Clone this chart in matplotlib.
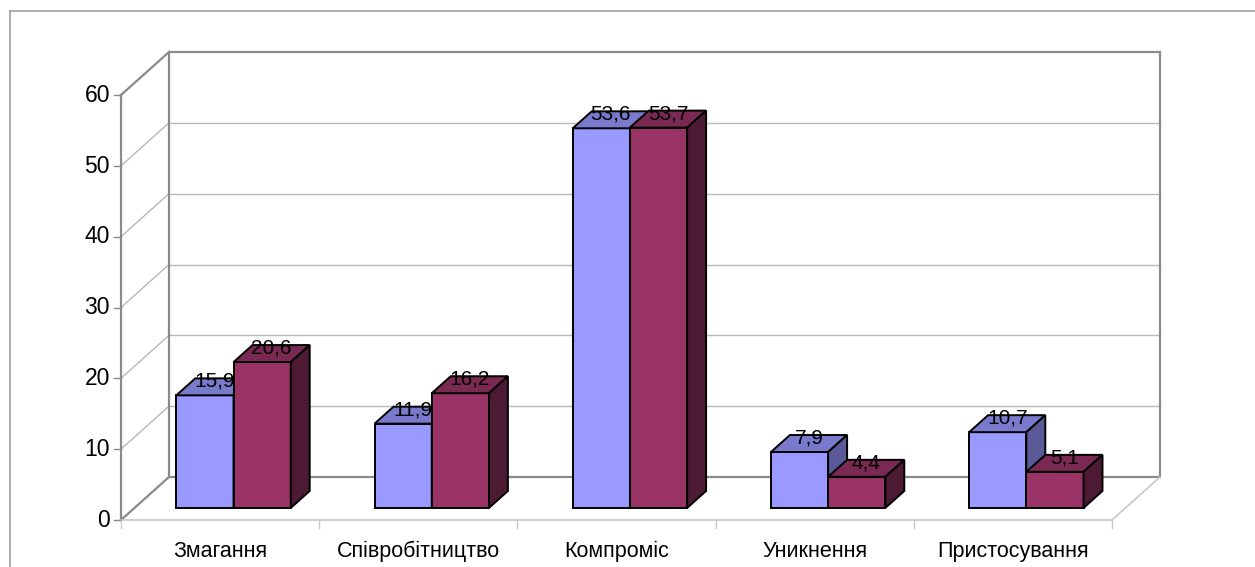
import matplotlib.pyplot as plt
from matplotlib.patches import Polygon
from matplotlib.lines import Line2D

plt.rcParams['font.family'] = ['Liberation Sans', 'DejaVu Sans']

# Conflict-resolution styles, % of respondents
categories = ["Змагання", "Співробітництво", "Компроміс", "Уникнення", "Пристосування"]
series_a = [15.9, 11.9, 53.6, 7.9, 10.7]
series_b = [20.6, 16.2, 53.7, 4.4, 5.1]
y_ticks = [0, 10, 20, 30, 40, 50, 60]

# face colours: front, top, side
colors_a = ("#9999ff", "#7a7acc", "#5a5a99")
colors_b = ("#993366", "#7a2952", "#4d1a33")

W, H = 1255, 567
fig = plt.figure(figsize=(W / 100, H / 100), dpi=100)
ax = fig.add_axes([0, 0, 1, 1])

# front plane of the plot box in pixels
X0, X1 = 121, 1112
Y0, YTOP = 520, 95
YMAX = y_ticks[-1]
sx = (X1 - X0) / len(categories)
sy = (Y0 - YTOP) / YMAX
ax.set_xlim(-X0 / sx, (W - X0) / sx)
ax.set_ylim(-(H - Y0) / sy, Y0 / sy)
ax.axis("off")

# oblique depth vector (full depth of the box)
DX, DY = 48 / sx, 43 / sy


def P(x, y, f):
    return (x + f * DX, y + f * DY)


def seg(a, b, color, lw=1.0, z=1):
    ax.add_line(Line2D([a[0], b[0]], [a[1], b[1]], color=color, lw=lw, zorder=z))


n = len(categories)
grid_c = "#b8b8b8"
wall_c = "#8a8a8a"
floor_c = "#c8c8c8"

# gridlines on back and left walls
for v in y_ticks[1:-1]:
    seg(P(0, v, 1), P(n, v, 1), grid_c)
    seg(P(0, v, 0), P(0, v, 1), grid_c)

# back wall outline
ax.add_patch(Polygon([P(0, 0, 1), P(n, 0, 1), P(n, YMAX, 1), P(0, YMAX, 1)],
                     closed=True, fill=False, edgecolor=wall_c, lw=1.6, zorder=1))
# left wall edges
seg(P(0, 0, 0), P(0, YMAX, 0), wall_c, 1.6)
seg(P(0, YMAX, 0), P(0, YMAX, 1), wall_c, 1.6)
seg(P(0, 0, 0), P(0, 0, 1), wall_c, 1.6)
# floor edges
seg(P(0, 0, 0), P(n, 0, 0), floor_c, 1.2)
seg(P(n, 0, 0), P(n, 0, 1), floor_c, 1.2)

# y ticks and labels
for v in y_ticks:
    seg(P(0, v, 0), (-7 / sx, v), wall_c, 1.0)
    ax.text(-11 / sx, v - 6.7 / sy, str(v), ha="right", va="baseline",
            fontsize=16.5, color="black")

# category ticks and labels
for k in range(n + 1):
    seg((k, 0), (k, -8 / sy), floor_c, 1.0)
for k, name in enumerate(categories):
    ax.text(k + 0.5, -37 / sy, name, ha="center", va="baseline",
            fontsize=15.5, color="black")

# bars
f0, f1 = 0.28, 0.675
gap, bw = 0.2114, 0.2886
for i in range(n):
    for j, (vals, cols) in enumerate([(series_a, colors_a), (series_b, colors_b)]):
        x0 = i + gap + j * bw
        x1 = x0 + bw
        v = vals[i]
        front = [P(x0, 0, f0), P(x1, 0, f0), P(x1, v, f0), P(x0, v, f0)]
        top = [P(x0, v, f0), P(x1, v, f0), P(x1, v, f1), P(x0, v, f1)]
        side = [P(x1, 0, f0), P(x1, 0, f1), P(x1, v, f1), P(x1, v, f0)]
        for poly, c in zip((front, top, side), cols):
            ax.add_patch(Polygon(poly, closed=True, facecolor=c, edgecolor="black",
                                 lw=1.4, joinstyle="miter", zorder=3))
        lx, ly = P((x0 + x1) / 2, v, (f0 + f1) / 2)
        ax.text(lx, ly, f"{v:.1f}".replace(".", ","), ha="center", va="baseline",
                fontsize=15, color="black", zorder=5)

# outer frame
fig.add_artist(Line2D([10 / W, 1], [1 - 11 / H, 1 - 11 / H], transform=fig.transFigure,
                      color="#a0a0a0", lw=1.2))
fig.add_artist(Line2D([10 / W, 10 / W], [0, 1 - 11 / H], transform=fig.transFigure,
                      color="#a0a0a0", lw=1.2))

fig.savefig("out.png", dpi=100)
